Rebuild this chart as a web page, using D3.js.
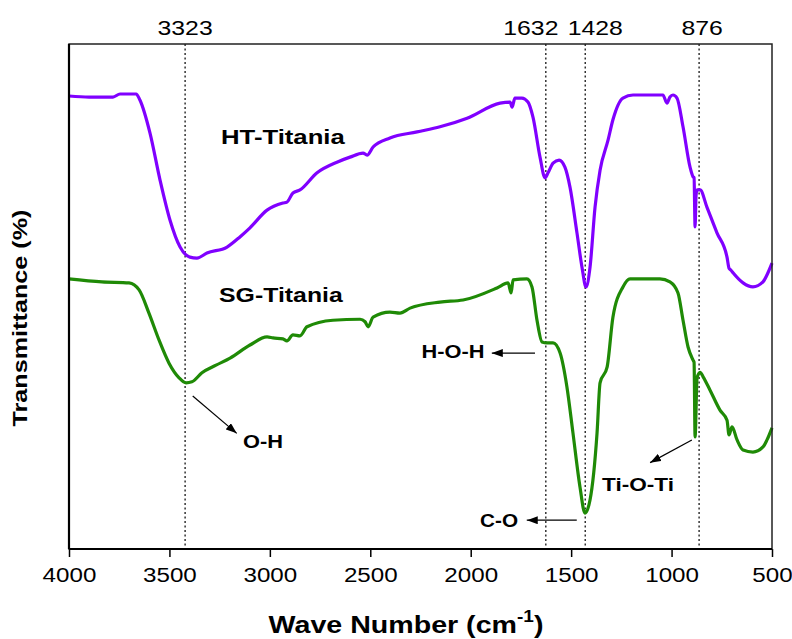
<!DOCTYPE html>
<html>
<head>
<meta charset="utf-8">
<script src="https://cdn.jsdelivr.net/npm/d3@7"></script>
<style>
  body { margin: 0; background: #fff; }
  text { font-family: Arial, "Liberation Sans", sans-serif; fill: #000; }
</style>
</head>
<body>
<svg width="792" height="639"></svg>
<script>
// wave number ticks
const waveTicks = [4000, 3500, 3000, 2500, 2000, 1500, 1000, 500];

// HT-Titania spectrum (wave number, transmittance)
const htWave = [4000, 3900, 3836, 3781, 3746, 3666, 3647, 3597, 3547, 3497, 3447, 3398, 3363, 3313, 3213, 3149, 3099, 3014, 2935, 2915, 2885, 2850, 2765, 2666, 2601, 2536, 2516, 2486, 2402, 2267, 2153, 2018, 1854, 1804, 1794, 1780, 1745, 1715, 1690, 1655, 1630, 1615, 1590, 1560, 1531, 1506, 1471, 1446, 1426, 1406, 1381, 1356, 1316, 1292, 1242, 1192, 1043, 1023, 1008, 993, 973, 943, 908, 893, 888, 883, 878, 873, 858, 824, 774, 724, 714, 704, 694, 644, 595, 545, 520, 500];
const htT = [89.7, 89.5, 89.5, 89.5, 90.1, 90.1, 88.9, 82.4, 73.1, 65.1, 59.8, 57.8, 57.6, 58.6, 59.8, 61.8, 63.6, 67.1, 68.5, 68.7, 70.5, 71.1, 74.5, 76.6, 77.6, 78.4, 78.0, 79.6, 81.4, 82.6, 83.6, 85.3, 88.3, 88.5, 87.5, 89.3, 89.3, 88.5, 85.5, 77.6, 73.5, 74.5, 76.4, 77.0, 75.6, 71.7, 62.6, 55.8, 51.9, 55.8, 67.7, 75.0, 81.0, 85.0, 89.3, 89.9, 89.9, 88.3, 89.5, 89.9, 89.3, 83.6, 75.6, 73.7, 73.5, 63.8, 70.1, 71.1, 71.1, 67.7, 62.6, 57.8, 55.6, 55.2, 54.7, 52.7, 51.9, 52.9, 54.7, 56.6];

// SG-Titania spectrum
const sgWave = [4000, 3836, 3701, 3651, 3602, 3552, 3502, 3452, 3417, 3388, 3338, 3268, 3198, 3099, 3014, 2984, 2935, 2915, 2885, 2850, 2815, 2686, 2551, 2526, 2511, 2486, 2402, 2352, 2302, 2153, 2038, 1869, 1814, 1799, 1789, 1720, 1695, 1670, 1645, 1620, 1590, 1555, 1521, 1491, 1456, 1431, 1406, 1371, 1356, 1321, 1292, 1242, 1207, 1058, 1008, 968, 943, 918, 893, 888, 883, 873, 858, 843, 809, 759, 724, 714, 699, 674, 644, 595, 545, 525, 500];
const sgT = [53.5, 52.9, 52.7, 51.3, 46.7, 41.4, 36.8, 33.9, 32.9, 33.1, 34.9, 36.4, 37.8, 40.4, 42.0, 41.8, 41.6, 41.2, 42.4, 42.2, 44.0, 45.3, 45.5, 45.0, 44.0, 45.9, 46.9, 46.7, 47.7, 48.9, 49.3, 51.7, 52.7, 50.7, 53.3, 53.5, 51.9, 45.3, 41.0, 40.8, 40.8, 38.8, 32.1, 23.0, 12.3, 7.1, 9.7, 23.0, 32.9, 36.0, 45.9, 51.9, 53.5, 53.5, 52.9, 50.7, 45.3, 40.0, 37.4, 37.0, 22.2, 33.9, 35.0, 34.1, 31.5, 27.5, 25.5, 22.6, 24.2, 21.6, 19.6, 19.2, 20.2, 21.6, 24.0];

// marked peaks: line position, printed label, label shift
const peakPos = [3422, 1626, 1430, 863];
const peakLabels = ["3323", "1632", "1428", "876"];
const peakDx = [0, -15, 10, 3];

// band annotations: label, label pos, arrow from -> to
const bandNames = ["O-H", "H-O-H", "C-O", "Ti-O-Ti"];
const bandLabelPos = [[3034, 20.0], [2088, 37.8], [1859, 4.4], [1167, 11.5]];
const bandArrowFrom = [[3384, 30.3], [1680, 38.8], [1472, 5.7], [899, 21.6]];
const bandArrowTo = [[3165, 22.9], [1895, 38.8], [1721, 5.7], [1107, 17.1]];

const seriesNames = ["HT-Titania", "SG-Titania"];
const seriesColors = ["#8000ff", "#1f8a06"];
const seriesLabelPos = [[2935, 80.2], [2945, 48.9]];

const svg = d3.select("svg");
const x = d3.scaleLinear().domain([4000, 500]).range([69, 772]);
const y = d3.scaleLinear().domain([0, 100]).range([549, 44]);

// text squeezed/stretched to the width seen in the picture
function fitText(txt, cx, cy, size, width, opts = {}) {
  const t = svg.append("text")
    .attr("text-anchor", "middle")
    .attr("font-size", size)
    .attr("font-weight", opts.bold ? "bold" : "normal")
    .text(txt);
  const w = t.node().getBBox().width;
  const rot = opts.rot ? ` rotate(${opts.rot})` : "";
  t.attr("transform", `translate(${cx},${cy})${rot} scale(${width / w},1)`);
  return t;
}

svg.append("defs").append("marker")
  .attr("id", "arr")
  .attr("markerUnits", "userSpaceOnUse")
  .attr("markerWidth", 11).attr("markerHeight", 8)
  .attr("refX", 11).attr("refY", 4)
  .attr("orient", "auto")
  .append("path").attr("d", "M0,0 L11,4 L0,8 Z").attr("fill", "#000");

// dotted peak lines
svg.selectAll(".peak")
  .data(peakPos)
  .enter()
  .append("line")
  .attr("x1", d => x(d)).attr("x2", d => x(d))
  .attr("y1", y(100)).attr("y2", y(0))
  .attr("stroke", "#000").attr("stroke-width", 1.2)
  .attr("stroke-dasharray", "2,2.5");

peakPos.forEach((p, i) => {
  fitText(peakLabels[i], x(p) + peakDx[i], 35, 21, peakLabels[i].length * 13.8);
});

// spectra
const line = d3.line().x(d => x(d[0])).y(d => y(d[1])).curve(d3.curveMonotoneX);
const series = [d3.zip(htWave, htT), d3.zip(sgWave, sgT)];
svg.selectAll(".spec")
  .data(series)
  .enter()
  .append("path")
  .attr("d", line)
  .attr("fill", "none")
  .attr("stroke", (d, i) => seriesColors[i])
  .attr("stroke-width", 3.2)
  .attr("stroke-linejoin", "round");

seriesNames.forEach((n, i) => {
  fitText(n, x(seriesLabelPos[i][0]), y(seriesLabelPos[i][1]), 19.5, 124, { bold: true });
});

// band arrows and names
bandNames.forEach((n, i) => {
  svg.append("line")
    .attr("x1", x(bandArrowFrom[i][0])).attr("y1", y(bandArrowFrom[i][1]))
    .attr("x2", x(bandArrowTo[i][0])).attr("y2", y(bandArrowTo[i][1]))
    .attr("stroke", "#000").attr("stroke-width", 1.2)
    .attr("marker-end", "url(#arr)");
  fitText(n, x(bandLabelPos[i][0]), y(bandLabelPos[i][1]), 18, [40, 63, 38, 72][i], { bold: true });
});

// axis
const ax = svg.append("g")
  .attr("transform", `translate(0,${y(0)})`)
  .call(d3.axisBottom(x).tickValues(waveTicks).tickSize(8).tickSizeOuter(0).tickFormat(d3.format("d")));
ax.select(".domain").remove();
ax.selectAll(".tick line").attr("stroke", "#000").attr("stroke-width", 1.5);
ax.selectAll(".tick text")
  .attr("y", 33).attr("dy", 0)
  .attr("font-size", 19.5)
  .attr("font-family", "Arial, 'Liberation Sans', sans-serif")
  .attr("transform", "scale(1.24,1)");

// frame
svg.append("rect")
  .attr("x", x(4000)).attr("y", y(100))
  .attr("width", x(500) - x(4000)).attr("height", y(0) - y(100))
  .attr("fill", "none").attr("stroke", "#222").attr("stroke-width", 1.5);
svg.append("line")
  .attr("x1", x(4000)).attr("x2", x(4000)).attr("y1", y(100)).attr("y2", y(0))
  .attr("stroke", "#000").attr("stroke-width", 2.2);
svg.append("line")
  .attr("x1", x(4000)).attr("x2", x(500)).attr("y1", y(0)).attr("y2", y(0))
  .attr("stroke", "#000").attr("stroke-width", 2.2);

// axis titles
fitText("Transmittance (%)", 27, 318, 21, 217, { bold: true, rot: -90 });

const xt = svg.append("text")
  .attr("text-anchor", "middle")
  .attr("font-size", 24)
  .attr("font-weight", "bold");
xt.append("tspan").text("Wave Number (cm");
xt.append("tspan").attr("font-size", 16).attr("dy", -11).text("-1");
xt.append("tspan").attr("dy", 11).text(")");
const xtw = xt.node().getBBox().width;
xt.attr("transform", `translate(406,633) scale(${275 / xtw},1)`);
</script>
</body>
</html>
